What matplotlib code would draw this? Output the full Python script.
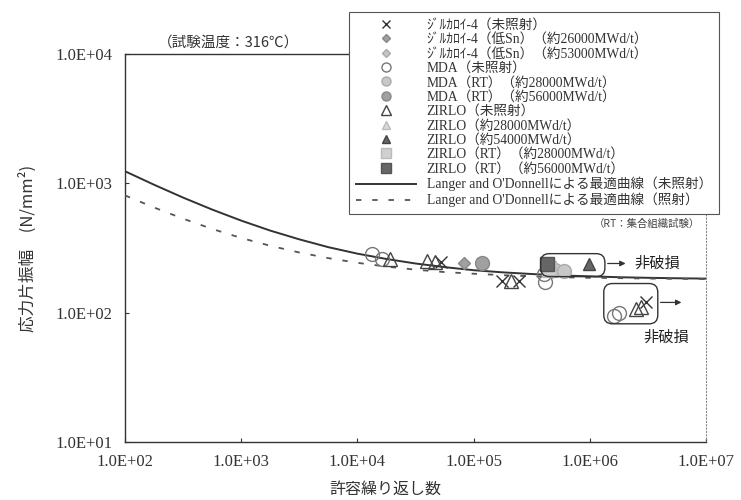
import numpy as np
import matplotlib.pyplot as plt
from matplotlib.patches import FancyBboxPatch

plt.rcParams['font.family'] = ['Liberation Serif', 'Noto Sans CJK JP', 'DejaVu Sans']

# Langer and O'Donnell best-fit curves (quarter decades)
curve_n = [1.00e2, 1.78e2, 3.16e2, 5.62e2, 1.00e3, 1.78e3, 3.16e3, 5.62e3,
           1.00e4, 1.78e4, 3.16e4, 5.62e4, 1.00e5, 1.78e5, 3.16e5, 5.62e5,
           1.00e6, 1.78e6, 3.16e6, 5.62e6, 1.00e7]
curve_unirr = [1240, 975, 776, 627, 515, 431, 369, 321, 286, 260, 240, 225,
               213, 205, 199, 194, 191, 188, 186, 184.5, 183.4]
curve_irr = [807, 650, 533, 444, 378, 329, 292, 264, 243, 227, 215, 206,
             200, 195, 191, 188, 186, 185, 183.5, 182.6, 182]

# test data: (cycles, stress amplitude)
zry_unirr_n = [5.2e4, 1.76e5, 2.45e5, 3.04e6]
zry_unirr_s = [245, 177, 177, 120]
zry_lsn26_n = [8.3e4]
zry_lsn26_s = [243]
zry_lsn53_n = [4.7e5]
zry_lsn53_s = [206]
mda_unirr_n = [1.34e4, 1.63e4, 4.0e5, 4.1e5, 1.62e6, 1.79e6]
mda_unirr_s = [285, 261, 200, 173, 95, 100]
mda_rt28_n = [5.0e5, 6.0e5]
mda_rt28_s = [213, 211]
mda_rt56_n = [1.19e5]
mda_rt56_s = [243]
zirlo_unirr_n = [1.9e4, 3.94e4, 4.7e4, 2.08e5, 2.49e6, 2.75e6]
zirlo_unirr_s = [261, 253, 245, 177, 107, 110]
zirlo28_n = [4.4e5]
zirlo28_s = [210]
zirlo54_n = [9.9e5]
zirlo54_s = [238]
zirlo_rt28_n = [4.5e5]
zirlo_rt28_s = [220]
zirlo_rt56_n = [4.3e5]
zirlo_rt56_s = [238]

x_ticks = [1e2, 1e3, 1e4, 1e5, 1e6, 1e7]
x_labels = ['1.0E+02', '1.0E+03', '1.0E+04', '1.0E+05', '1.0E+06', '1.0E+07']
y_ticks = [1e1, 1e2, 1e3, 1e4]
y_labels = ['1.0E+01', '1.0E+02', '1.0E+03', '1.0E+04']

fig = plt.figure(figsize=(7.41, 5.0), dpi=100)
ax = fig.add_axes([0.1687, 0.116, 0.784, 0.776])
ax.set_xscale('log')
ax.set_yscale('log')
ax.set_xlim(1e2, 1e7)
ax.set_ylim(1e1, 1e4)

series = [
    (zry_unirr_n, zry_unirr_s, 'ｼﾞﾙｶﾛｲ-4（未照射）',
     dict(marker='x', ms=9, mec='#333333', mew=1.0, mfc='none')),
    (zry_lsn26_n, zry_lsn26_s, 'ｼﾞﾙｶﾛｲ-4（低Sn）（約26000MWd/t）',
     dict(marker='D', ms=6, mec='#888888', mfc='#a0a0a0')),
    (zry_lsn53_n, zry_lsn53_s, 'ｼﾞﾙｶﾛｲ-4（低Sn）（約53000MWd/t）',
     dict(marker='D', ms=6, mec='#aaaaaa', mfc='#c4c4c4')),
    (mda_unirr_n, mda_unirr_s, 'MDA（未照射）',
     dict(marker='o', ms=10, mec='#777777', mfc='none', mew=1.0)),
    (mda_rt28_n, mda_rt28_s, 'MDA（RT）（約28000MWd/t）',
     dict(marker='o', ms=10, mec='#aaaaaa', mfc='#c8c8c8')),
    (mda_rt56_n, mda_rt56_s, 'MDA（RT）（約56000MWd/t）',
     dict(marker='o', ms=10, mec='#888888', mfc='#a0a0a0')),
    (zirlo_unirr_n, zirlo_unirr_s, 'ZIRLO（未照射）',
     dict(marker='^', ms=10, mec='#444444', mfc='none', mew=1.0)),
    (zirlo28_n, zirlo28_s, 'ZIRLO（約28000MWd/t）',
     dict(marker='^', ms=9, mec='#bbbbbb', mfc='#d8d8d8')),
    (zirlo54_n, zirlo54_s, 'ZIRLO（約54000MWd/t）',
     dict(marker='^', ms=9, mec='#444444', mfc='#666666')),
    (zirlo_rt28_n, zirlo_rt28_s, 'ZIRLO（RT）（約28000MWd/t）',
     dict(marker='s', ms=10, mec='#bbbbbb', mfc='#d0d0d0')),
    (zirlo_rt56_n, zirlo_rt56_s, 'ZIRLO（RT）（約56000MWd/t）',
     dict(marker='s', ms=10, mec='#555555', mfc='#666666')),
]
for n, s, label, style in series:
    ax.plot(n, s, linestyle='none', label=label, zorder=4, **style)

ax.plot(curve_n, curve_unirr, color='#333333', lw=1.4,
        label="Langer and O'Donnellによる最適曲線（未照射）", zorder=3)
ax.plot(curve_n, curve_irr, color='#555555', lw=1.3, dashes=(3, 6),
        label="Langer and O'Donnellによる最適曲線（照射）", zorder=3)

ax.set_xticks(x_ticks)
ax.set_xticklabels(x_labels)
ax.set_yticks(y_ticks)
ax.set_yticklabels(y_labels)
ax.minorticks_off()
ax.tick_params(direction='in', length=3, labelsize=12, colors='#333333')
ax.tick_params(axis='x', pad=9)
ax.tick_params(axis='y', pad=9)
for side in ['left', 'bottom', 'top']:
    ax.spines[side].set_color('#333333')
    ax.spines[side].set_linewidth(1.0)
ax.spines['right'].set_color('#888888')
ax.spines['right'].set_linestyle((0, (1, 2)))

# run-out boxes, arrows and labels
to_axes = lambda n, s: ax.transAxes.inverted().transform(ax.transData.transform((n, s)))
for (n0, s0), (n1, s1) in [((3.78e5, 190), (1.35e6, 286)), ((1.32e6, 82), (3.85e6, 168))]:
    x0, y0 = to_axes(n0, s0)
    x1, y1 = to_axes(n1, s1)
    box = FancyBboxPatch((x0, y0), x1 - x0, y1 - y0, transform=ax.transAxes,
                         boxstyle='round,pad=0,rounding_size=0.015',
                         mutation_aspect=1.5, fc='none', ec='#333333', lw=1.0, zorder=5)
    ax.add_patch(box)

arrow = dict(arrowstyle='-|>', color='#333333', lw=0.9, mutation_scale=8)
ax.annotate('', xy=(2.15e6, 240), xytext=(1.35e6, 240), arrowprops=arrow)
ax.annotate('', xy=(6.5e6, 120), xytext=(3.85e6, 120), arrowprops=arrow)
ax.text(2.4e6, 240, '非破損', fontsize=11, va='center', ha='left', color='#222222',
        family=['Noto Sans CJK JP'])
ax.text(4.6e6, 65, '非破損', fontsize=11, va='center', ha='center', color='#222222',
        family=['Noto Sans CJK JP'])

leg = ax.legend(loc='upper right', bbox_to_anchor=(0.970, 0.976), bbox_transform=fig.transFigure,
                borderaxespad=0, fontsize=9.8, frameon=True, fancybox=False,
                edgecolor='#555555', framealpha=1, markerscale=0.65, handlelength=4.4,
                labelspacing=0.1, borderpad=0.5, handletextpad=0.8)
leg.get_frame().set_linewidth(0.8)
leg.set_zorder(10)
for t in leg.get_texts():
    t.set_color('#333333')

fig.text(0.945, 0.552, '（RT：集合組織試験）', fontsize=7.5, ha='right', va='center',
         color='#444444', family=['Noto Sans CJK JP', 'DejaVu Sans'])
fig.text(0.308, 0.914, '（試験温度：316℃）', fontsize=10.5, ha='center', va='center',
         color='#333333', family=['Noto Sans CJK JP', 'DejaVu Sans'])
fig.text(0.038, 0.503, '応力片振幅　(N/mm²)', fontsize=12, rotation=90,
         ha='center', va='center', color='#333333',
         family=['Noto Sans CJK JP', 'DejaVu Sans'])
fig.text(0.52, 0.022, '許容繰り返し数', fontsize=11.5, ha='center', va='center',
         color='#333333', family=['Noto Sans CJK JP'])

fig.savefig('out.png', dpi=100)
